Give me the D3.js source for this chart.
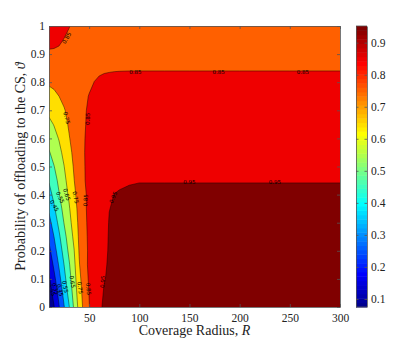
<!DOCTYPE html>
<html><head><meta charset="utf-8">
<script src="https://cdn.jsdelivr.net/npm/d3@7/dist/d3.min.js"></script>
<style>
html,body{margin:0;padding:0;background:#fff;}
svg{display:block;}
text{font-family:"Liberation Serif","Times New Roman",serif;fill:#222;}
</style></head><body>
<svg id="chart" width="415" height="345"></svg>
<script>
// ---- data ----
const radius = [10,15,20,25,30,35,40,45,50,55,60,65,70,75,80,90,100,125,150,200,250,300];
const theta = [0,0.05,0.1,0.15,0.2,0.25,0.3,0.35,0.4,0.45,0.5,0.55,0.6,0.65,0.7,0.75,0.8,0.85,0.9,0.95,1];
const levels = [0.15,0.25,0.35,0.45,0.55,0.65,0.75,0.85,0.95];
const colorRange = [0.075, 0.952];
const xTickValues = [50,100,150,200,250,300];
const yTickValues = [0,0.1,0.2,0.3,0.4,0.5,0.6,0.7,0.8,0.9,1];
const cbTickValues = [0.1,0.2,0.3,0.4,0.5,0.6,0.7,0.8,0.9];
// one row per theta value, one column per radius value
const values = [
 [.075,.146,.244,.344,.444,.566,.683,.781,.846,.910,.9485,.9512,.9516,.9518,.9519,.952,.952,.952,.952,.952,.952,.952],
 [.106,.180,.280,.380,.483,.590,.703,.792,.853,.905,.9460,.9510,.9515,.9517,.9518,.9519,.9519,.9519,.9519,.9519,.9519,.9519],
 [.133,.223,.320,.417,.515,.609,.724,.801,.862,.895,.935,.9496,.9512,.9515,.9516,.9517,.9518,.9518,.9518,.9518,.9518,.9518],
 [.177,.268,.359,.450,.539,.627,.743,.811,.870,.900,.930,.9490,.9509,.9513,.9515,.9516,.9517,.9517,.9517,.9517,.9517,.9517],
 [.224,.310,.397,.485,.570,.647,.755,.818,.865,.895,.925,.9485,.9506,.9511,.9513,.9515,.9516,.9516,.9516,.9516,.9516,.9516],
 [.270,.350,.433,.519,.594,.671,.765,.826,.865,.893,.922,.9485,.9504,.9509,.9511,.9513,.9514,.9514,.9514,.9514,.9514,.9514],
 [.318,.394,.474,.553,.618,.694,.772,.832,.866,.890,.918,.9478,.9503,.9507,.9509,.9511,.9512,.9512,.9512,.9512,.9512,.9512],
 [.365,.436,.512,.580,.640,.713,.779,.838,.865,.888,.912,.935,.9499,.9505,.9506,.9508,.9509,.9509,.9509,.9509,.9509,.9509],
 [.412,.477,.545,.603,.664,.731,.789,.839,.865,.886,.908,.928,.9475,.9502,.9503,.9504,.9505,.9505,.9505,.9505,.9505,.9505],
 [.458,.514,.570,.626,.685,.748,.797,.846,.866,.884,.903,.920,.935,.9455,.9494,.9498,.9499,.9499,.9499,.9499,.9499,.9499],
 [.500,.547,.597,.648,.706,.760,.804,.847,.866,.883,.900,.914,.926,.935,.940,.945,.947,.948,.948,.948,.948,.948],
 [.542,.584,.626,.673,.726,.771,.809,.848,.866,.882,.897,.910,.921,.929,.935,.940,.942,.943,.944,.944,.944,.944],
 [.585,.619,.655,.700,.745,.780,.813,.847,.865,.880,.894,.906,.915,.922,.927,.933,.936,.937,.938,.938,.938,.938],
 [.627,.654,.689,.725,.759,.787,.816,.844,.863,.877,.889,.899,.907,.913,.918,.924,.927,.929,.930,.930,.930,.930],
 [.672,.696,.721,.745,.769,.793,.818,.842,.860,.873,.884,.893,.900,.906,.910,.915,.917,.918,.919,.919,.919,.919],
 [.718,.734,.750,.767,.784,.802,.819,.836,.853,.864,.873,.881,.887,.892,.895,.899,.901,.902,.902,.902,.902,.902],
 [.762,.767,.773,.780,.788,.797,.808,.822,.837,.8505,.858,.863,.866,.868,.869,.870,.870,.870,.870,.870,.870,.870],
 [.800,.805,.810,.815,.820,.824,.828,.832,.835,.838,.840,.842,.843,.844,.8445,.845,.845,.845,.845,.845,.845,.845],
 [.838,.840,.839,.837,.835,.833,.831,.829,.828,.827,.826,.826,.826,.825,.825,.825,.825,.825,.825,.825,.825,.825],
 [.873,.865,.858,.848,.840,.833,.826,.820,.815,.812,.810,.808,.807,.806,.806,.805,.805,.805,.805,.805,.805,.805],
 [.900,.888,.876,.864,.852,.840,.828,.818,.810,.804,.800,.797,.795,.794,.793,.792,.791,.790,.790,.790,.790,.790]
];
const contourLabels = [
 {text:"0.85", r:27.6, t:0.957, a:-60},
 {text:"0.85", r:96,  t:0.837, a:0},
 {text:"0.85", r:179, t:0.837, a:0},
 {text:"0.85", r:263, t:0.837, a:0},
 {text:"0.75", r:27.6, t:0.673, a:75},
 {text:"0.85", r:48.6, t:0.67, a:-88},
 {text:"0.95", r:150, t:0.443, a:0},
 {text:"0.95", r:235, t:0.443, a:0},
 {text:"0.95", r:74,  t:0.39, a:-65},
 {text:"0.85", r:46.5, t:0.38, a:-88},
 {text:"0.75", r:36.6, t:0.39, a:78},
 {text:"0.65", r:27.6, t:0.40, a:72},
 {text:"0.55", r:21,  t:0.39, a:65},
 {text:"0.45", r:15.3, t:0.36, a:60},
 {text:"0.25", r:12,  t:0.06, a:60},
 {text:"0.35", r:16.5, t:0.065, a:70},
 {text:"0.45", r:21,  t:0.06, a:75},
 {text:"0.55", r:26,  t:0.072, a:78},
 {text:"0.65", r:33.3, t:0.09, a:80},
 {text:"0.75", r:41,  t:0.068, a:82},
 {text:"0.85", r:49.3, t:0.064, a:85},
 {text:"0.95", r:63.5, t:0.09, a:-85}
];

// ---- drawing ----
const svg = d3.select("#chart");
const P = {left:49, right:340, top:26, bottom:307};
const x = d3.scaleLinear().domain([10,300]).range([P.left, P.right]);
const y = d3.scaleLinear().domain([0,1]).range([P.bottom, P.top]);

// MATLAB-style jet(64) colormap
function jetMap(m){
  const n = Math.ceil(m/4);
  const u = [...d3.range(1,n+1).map(k=>k/n), ...Array(n-1).fill(1), ...d3.range(n,0,-1).map(k=>k/n)];
  const gOff = Math.ceil(n/2) - (m%4===1?1:0);
  const at = i => (i>=1 && i<=u.length) ? u[i-1] : 0;
  return d3.range(1,m+1).map(row => {
    const gi = row - gOff;
    return d3.rgb(255*at(gi-n), 255*at(gi), 255*at(gi+n)).formatHex();
  });
}
const jet = jetMap(64);
const cIndex = d3.scaleQuantize().domain(colorRange).range(d3.range(64));
const color = v => jet[v <= colorRange[0] ? 0 : v >= colorRange[1] ? 63 : cIndex(v)];

// padded grid (edge rows/cols repeated, they lie outside the clipped plot)
const nx = radius.length, ny = theta.length;
const W = nx+2, H = ny+2;
const padR = [2*radius[0]-radius[1], ...radius, 2*radius[nx-1]-radius[nx-2]];
const padT = [2*theta[0]-theta[1], ...theta, 2*theta[ny-1]-theta[ny-2]];
const grid = new Array(W*H);
for (let j=0;j<H;j++){
  const jj = Math.max(0, Math.min(ny-1, j-1));
  for (let i=0;i<W;i++){
    const ii = Math.max(0, Math.min(nx-1, i-1));
    grid[j*W+i] = values[jj][ii];
  }
}
// d3.contours places sample k at coordinate k + 0.5
const gx = d3.scaleLinear().domain(d3.range(W).map(k => k+0.5)).range(padR).clamp(true);
const gy = d3.scaleLinear().domain(d3.range(H).map(k => k+0.5)).range(padT).clamp(true);
const proj = d3.geoTransform({point(px,py){ this.stream.point(x(gx(px)), y(gy(py))); }});
const path = d3.geoPath(proj);
const conts = d3.contours().size([W,H]).thresholds(levels)(grid);

const defs = svg.append("defs");
defs.append("clipPath").attr("id","clip").append("rect")
  .attr("x",P.left).attr("y",P.top).attr("width",P.right-P.left).attr("height",P.bottom-P.top);

const g = svg.append("g").attr("clip-path","url(#clip)");
g.append("rect").attr("x",P.left).attr("y",P.top).attr("width",P.right-P.left).attr("height",P.bottom-P.top)
  .attr("fill", jet[0]);
g.selectAll("path.fill").data(conts).join("path").attr("class","fill")
  .attr("d", path).attr("fill", d => color(d.value)).attr("stroke","none");
g.selectAll("path.line").data(conts).join("path").attr("class","line")
  .attr("d", path).attr("fill","none").attr("stroke","#000").attr("stroke-width",0.5).attr("stroke-opacity",0.85);

g.selectAll("text.clab").data(contourLabels).join("text").attr("class","clab")
  .attr("transform", d => `translate(${x(d.r)},${y(d.t)}) rotate(${d.a})`)
  .attr("text-anchor","middle").attr("dy","0.35em")
  .style("font-family","'DejaVu Sans',sans-serif").style("font-size","5.5px").style("fill","#000")
  .text(d => d.text);

// axes
const fmt = d3.format("~g");
function styleAxis(sel){
  sel.selectAll(".domain").attr("stroke","#555").attr("stroke-width",0.8);
  sel.selectAll(".tick line").attr("stroke","#555").attr("stroke-width",0.8);
  sel.selectAll("text").style("font-family","'Liberation Serif',serif").style("font-size","11.5px").attr("fill","#222");
}
svg.append("g").attr("transform",`translate(0,${P.bottom})`)
  .call(d3.axisBottom(x).tickValues(xTickValues).tickSizeInner(-3).tickSizeOuter(0).tickPadding(7).tickFormat(d3.format("d")))
  .call(styleAxis);
svg.append("g").attr("transform",`translate(0,${P.top})`)
  .call(d3.axisTop(x).tickValues(xTickValues).tickSizeInner(-3).tickSizeOuter(0).tickFormat(""))
  .call(styleAxis);
svg.append("g").attr("transform",`translate(${P.left},0)`)
  .call(d3.axisLeft(y).tickValues(yTickValues).tickSizeInner(-3).tickSizeOuter(0).tickPadding(4).tickFormat(fmt))
  .call(styleAxis);
svg.append("g").attr("transform",`translate(${P.right},0)`)
  .call(d3.axisRight(y).tickValues(yTickValues).tickSizeInner(-3).tickSizeOuter(0).tickFormat(""))
  .call(styleAxis);

// colorbar (64 discrete jet steps)
const CB = {x:356, w:11};
const cScale = d3.scaleLinear().domain(colorRange).range([P.bottom, P.top]);
const step = (colorRange[1]-colorRange[0])/64;
svg.append("g").selectAll("rect").data(jet).join("rect")
  .attr("x",CB.x).attr("width",CB.w)
  .attr("y",(d,i) => cScale(colorRange[0]+(i+1)*step))
  .attr("height",(d,i) => cScale(colorRange[0]+i*step) - cScale(colorRange[0]+(i+1)*step) + 0.5)
  .attr("fill", d => d);
svg.append("g").attr("transform",`translate(${CB.x+CB.w},0)`)
  .call(d3.axisRight(cScale).tickValues(cbTickValues).tickSizeInner(-2.5).tickSizeOuter(0).tickPadding(4).tickFormat(fmt))
  .call(styleAxis);
svg.append("g").attr("transform",`translate(${CB.x},0)`)
  .call(d3.axisLeft(cScale).tickValues(cbTickValues).tickSizeInner(-2.5).tickSizeOuter(0).tickFormat(""))
  .call(styleAxis);
svg.append("line").attr("x1",CB.x).attr("x2",CB.x+CB.w).attr("y1",P.top).attr("y2",P.top).attr("stroke","#555").attr("stroke-width",0.8);
svg.append("line").attr("x1",CB.x).attr("x2",CB.x+CB.w).attr("y1",P.bottom).attr("y2",P.bottom).attr("stroke","#555").attr("stroke-width",0.8);

// axis titles
const xt = svg.append("text").attr("x",(P.left+P.right)/2).attr("y",335).attr("text-anchor","middle")
  .style("font-size","14px");
xt.append("tspan").text("Coverage Radius, ");
xt.append("tspan").style("font-style","italic").text("R");
const yt = svg.append("text").attr("transform",`translate(25,${(P.top+P.bottom)/2}) rotate(-90)`)
  .attr("text-anchor","middle").style("font-size","14px");
yt.append("tspan").text("Probability of offloading to the CS, ");
yt.append("tspan").style("font-style","italic").text("\u03D1");
</script>
</body></html>
